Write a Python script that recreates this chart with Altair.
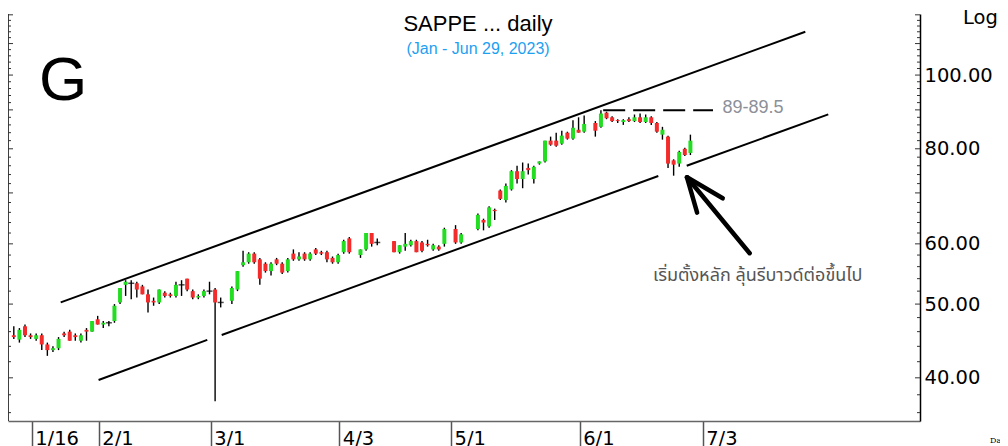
import altair as alt
import pandas as pd
import numpy as np

# ---------------- data ----------------
dates = (
    ["2023-01-%02d" % d for d in [11, 12, 13, 16, 17, 18, 19, 20, 23, 24, 25, 26, 27, 30, 31]]
    + ["2023-02-%02d" % d for d in [1, 2, 3, 6, 7, 8, 9, 10, 13, 14, 15, 16, 17, 20, 21, 22, 23, 24, 27, 28]]
    + ["2023-03-%02d" % d for d in [1, 2, 3, 7, 8, 9, 10, 13, 14, 15, 16, 17, 20, 21, 22, 23, 24, 27, 28, 29, 30, 31]]
    + ["2023-04-%02d" % d for d in [3, 4, 5, 7, 10, 11, 12, 17, 18, 19, 20, 21, 24, 25, 26, 27, 28]]
    + ["2023-05-%02d" % d for d in [2, 3, 8, 9, 10, 11, 12, 15, 16, 17, 18, 19, 22, 23, 24, 25, 26, 29, 30, 31]]
    + ["2023-06-%02d" % d for d in [1, 2, 6, 7, 8, 9, 12, 13, 14, 15, 16, 19, 20, 21, 22, 23, 26, 27, 28, 29]]
)

opens = [
    45.5, 44.9, 46.75, 45.5, 45.0, 45.5, 44.25, 43.5, 43.75, 45.75, 46.0, 45.5, 44.75, 46.25, 46.0,
    47.75, 47.0, 47.25, 47.5, 50.25, 53.0, 53.25, 53.25, 52.75, 51.5, 50.5, 50.25, 51.75, 51.5, 51.25, 53.0, 54.0, 52.0, 51.0, 51.25,
    52.0, 52.25, 50.25, 50.5, 52.25, 56.25, 56.75, 58.25, 57.25, 56.5, 55.25, 57.25, 56.5, 55.25, 58.25, 57.25, 58.25, 57.25, 59.0, 58.5, 58.5, 57.5,
    56.75, 58.5, 61.0, 58.0, 59.0, 62.0, 60.25, 60.5, 58.5, 59.5, 59.75, 60.5, 60.25, 60.0, 59.0, 59.5, 60.0,
    62.75, 60.25, 62.75, 64.5, 63.25, 66.5, 70.5, 68.5, 70.75, 74.75, 73.0, 75.5, 73.0, 76.5, 77.0, 82.0, 82.0, 81.25, 84.0, 82.5,
    84.75, 84.25, 86.5, 85.5, 89.25, 88.0, 87.25, 86.75, 87.5, 87.0, 88.0, 86.75, 88.0, 86.5, 83.5, 83.0, 77.25, 76.5, 80.0, 79.0,
]
highs = [
    46.75, 46.5, 47.0, 45.75, 45.75, 45.75, 44.5, 44.0, 45.25, 46.0, 46.25, 45.75, 45.75, 46.5, 47.5,
    48.25, 47.5, 47.5, 50.0, 52.5, 53.75, 53.75, 53.5, 53.0, 52.25, 51.0, 52.25, 52.0, 51.75, 53.5, 53.75, 54.0, 52.25, 51.5, 52.25,
    53.5, 52.5, 51.0, 52.75, 55.25, 58.75, 58.5, 58.5, 57.5, 56.75, 56.75, 57.5, 56.75, 57.5, 59.0, 58.5, 58.5, 58.5, 59.25, 58.75, 58.75, 57.75,
    58.25, 60.75, 61.25, 59.0, 62.0, 62.0, 61.0, 60.5, 59.75, 62.0, 60.75, 60.75, 60.5, 60.75, 60.0, 59.75, 63.0,
    63.5, 62.0, 65.75, 64.75, 67.25, 66.75, 70.75, 72.0, 75.0, 76.0, 76.75, 76.5, 76.0, 77.0, 82.0, 83.0, 84.0, 84.5, 84.25, 87.25,
    88.0, 88.5, 87.0, 89.9, 89.5, 88.25, 87.5, 87.5, 88.0, 88.75, 89.0, 88.75, 88.25, 86.75, 85.5, 83.25, 77.5, 79.5, 80.25, 83.5,
]
lows = [
    45.0, 44.5, 45.25, 45.0, 44.75, 43.5, 42.75, 43.25, 43.5, 45.25, 44.75, 44.75, 44.5, 44.75, 46.0,
    47.0, 46.5, 46.75, 47.25, 50.0, 51.25, 50.75, 51.0, 51.5, 48.75, 49.75, 50.0, 51.0, 51.0, 51.0, 51.25, 52.0, 50.75, 50.75, 51.0,
    51.5, 37.25, 49.5, 50.0, 52.0, 56.0, 56.5, 56.5, 53.0, 55.0, 54.5, 56.25, 54.75, 55.0, 57.0, 57.0, 57.0, 57.0, 58.0, 58.0, 56.75, 56.5,
    56.5, 58.25, 58.25, 57.5, 58.75, 59.5, 59.75, 58.5, 58.25, 58.75, 59.5, 58.5, 58.5, 59.5, 58.75, 58.75, 59.5,
    60.0, 60.0, 62.5, 62.5, 63.0, 64.5, 68.5, 68.0, 70.5, 72.0, 71.0, 74.0, 72.0, 76.25, 76.75, 80.75, 80.5, 81.0, 82.25, 82.25,
    84.0, 84.0, 83.0, 85.25, 87.5, 86.75, 86.5, 86.0, 86.75, 86.75, 86.5, 86.5, 86.0, 84.0, 82.25, 75.5, 73.75, 75.75, 78.25, 78.5,
]
closes = [
    45.25, 46.25, 45.5, 45.25, 45.5, 44.25, 43.5, 43.75, 45.0, 45.5, 44.75, 45.25, 45.5, 46.0, 47.5,
    47.0, 47.25, 47.25, 49.75, 52.5, 53.5, 53.25, 52.25, 51.5, 50.25, 50.25, 52.25, 51.25, 51.25, 53.0, 53.0, 52.25, 51.0, 51.25, 52.0,
    52.0, 50.25, 50.25, 52.5, 55.25, 56.75, 58.25, 56.75, 54.0, 55.25, 56.5, 56.5, 55.0, 57.25, 57.25, 57.75, 57.25, 58.25, 58.25, 58.25, 57.25, 56.75,
    58.0, 60.5, 58.5, 59.0, 62.0, 60.0, 60.25, 58.5, 59.75, 60.0, 60.5, 58.5, 58.75, 59.75, 59.75, 59.0, 62.75,
    60.25, 61.75, 65.5, 64.0, 67.0, 66.25, 68.75, 71.5, 74.75, 73.0, 74.75, 75.0, 75.75, 77.0, 82.0, 81.0, 80.75, 83.25, 82.5, 85.25,
    84.0, 86.25, 84.5, 89.0, 87.75, 87.0, 87.0, 87.25, 87.0, 88.0, 86.75, 88.0, 86.5, 84.25, 84.75, 76.5, 76.25, 79.25, 78.5, 82.0,
]

# x-axis tick dates and labels
tick_dates = ["2023-01-16", "2023-02-01", "2023-03-01", "2023-04-03", "2023-05-01", "2023-06-01", "2023-07-03"]
tick_labels = ["1/16", "2/1", "3/1", "4/3", "5/1", "6/1", "7/3"]
y_label_values = [40, 50, 60, 80, 100]

# trend channel drawn on the chart (date-index, price)
upper_line_x = [15.19, 148.35]
upper_line_y = [50.26, 114.0]
lower_line_x = [21.96, 41.4, 43.98, 122.06, 127.14, 152.46]
lower_line_y = [39.73, 44.86, 45.54, 73.68, 76.0, 88.78]
lower_line_seg = ["a", "a", "b", "b", "c", "c"]
resist_x = [112.2, 131.84]
resist_y = [89.9, 89.9]
arrow_x = [138.4, 127.19, 129.0, 127.19, 133.58, 127.19]
arrow_y = [58.32, 73.39, 65.94, 73.39, 68.87, 73.39]
arrow_seg = ["s", "s", "h1", "h1", "h2", "h2"]

# ---------------- build ----------------
BASE = "2023-01-02"
df = pd.DataFrame({"date": dates, "open": opens, "high": highs, "low": lows, "close": closes})
df["idx"] = np.busday_count(BASE, np.array(dates, dtype="datetime64[D]")) - 0.2
df["dir"] = np.where(df.close > df.open, "up", np.where(df.close < df.open, "down", "flat"))

tick_idx = [int(v) for v in np.busday_count(BASE, np.array(tick_dates, dtype="datetime64[D]"))]
label_expr = ""
for v, l in zip(tick_idx, tick_labels):
    label_expr += "datum.value == %d ? '%s' : " % (v, l)
label_expr += "''"

W, H = 912, 407
xs = alt.Scale(domain=[5.762, 168.86], nice=False, zero=False, padding=0)
ys = alt.Scale(type="log", domain=[35.10, 120.30], nice=False, zero=False, padding=0)

xaxis = alt.Axis(values=tick_idx, labelExpr=label_expr, labelAlign="left", labelOffset=3,
                 labelBaseline="alphabetic", labelPadding=-2, tickSize=25, tickColor="#555555",
                 tickWidth=1.5, domainColor="#666666", domainWidth=1.5, grid=False, title=None,
                 labelFont="DejaVu Sans", labelFontSize=19.5, labelColor="black",
                 labelFlush=False, labelOverlap=False, labelBound=False)
yaxis = alt.Axis(orient="right", values=y_label_values, format=".2f", labelFont="DejaVu Sans",
                 labelFontSize=19.5, labelColor="black", labelPadding=4, ticks=False,
                 domainColor="black", domainWidth=1.5, grid=False, title=None, labelOverlap=False)


def X(f):
    return alt.X(f, type="quantitative", scale=xs, axis=xaxis)


def Y(f):
    return alt.Y(f, type="quantitative", scale=ys, axis=yaxis)


base = alt.Chart(df)
wicks = base.mark_rule(color="black", strokeWidth=1.4).encode(x=X("idx"), y=Y("low"), y2=alt.Y2("high"))
bodies = base.mark_bar(size=4).encode(
    x=X("idx"), y=Y("open"), y2=alt.Y2("close"),
    color=alt.Color("dir:N", scale=alt.Scale(domain=["up", "down", "flat"],
                                             range=["#22dd22", "#f42b2b", "#000000"]), legend=None))
doji = base.mark_tick(orient="horizontal", thickness=1.5, size=6, color="black").transform_filter(
    "datum.dir == 'flat'").encode(x=X("idx"), y=Y("close"))

lines_df = pd.DataFrame({
    "x": upper_line_x + lower_line_x,
    "y": upper_line_y + lower_line_y,
    "seg": ["u", "u"] + lower_line_seg,
})
channel = alt.Chart(lines_df).mark_line(color="black", strokeWidth=2).encode(
    x=X("x"), y=Y("y"), detail="seg:N")

resist = alt.Chart(pd.DataFrame({"x": resist_x, "y": resist_y})).mark_line(
    color="black", strokeWidth=2, strokeDash=[22, 8]).encode(x=X("x"), y=Y("y"))

arrow = alt.Chart(pd.DataFrame({"x": arrow_x, "y": arrow_y, "seg": arrow_seg})).mark_line(
    color="black", strokeWidth=4.5, strokeCap="round").encode(x=X("x"), y=Y("y"), detail="seg:N")

# frame: left line and inward ticks
frame_left = alt.Chart(pd.DataFrame({"a": [0]})).mark_rule(color="black", strokeWidth=1.5).encode(
    x=alt.value(0), y=alt.value(0), y2=alt.value(H))
tick_vals = list(range(36, 121, 2))
ticks_df = pd.DataFrame({"v": tick_vals, "major": [v % 10 == 0 for v in tick_vals]})
tk = alt.Chart(ticks_df)
lt_minor = tk.mark_rule(color="#333333", strokeWidth=1).transform_filter("!datum.major").encode(
    y=Y("v"), x=alt.value(0), x2=alt.value(3))
lt_major = tk.mark_rule(color="#333333", strokeWidth=1).transform_filter("datum.major").encode(
    y=Y("v"), x=alt.value(0), x2=alt.value(5))
rt_minor = tk.mark_rule(color="#333333", strokeWidth=1).transform_filter("!datum.major").encode(
    y=Y("v"), x=alt.value(W - 3), x2=alt.value(W))
rt_major = tk.mark_rule(color="#333333", strokeWidth=1).transform_filter("datum.major").encode(
    y=Y("v"), x=alt.value(W - 5), x2=alt.value(W))


def label(text, x, y, size, color="black", font="Liberation Sans", align="left", weight="normal"):
    return alt.Chart(pd.DataFrame({"t": [text]})).mark_text(
        font=font, fontSize=size, color=color, align=align, baseline="alphabetic",
        fontWeight=weight).encode(text="t:N", x=alt.value(x), y=alt.value(y))


texts = [
    label("SAPPE ... daily", 470, 17, 22, align="center"),
    label("(Jan - Jun 29, 2023)", 470, 39.5, 16, color="#1e9ff2", align="center"),
    label("G", 31, 86, 62),
    label("Log", 955, 10, 19.5, font="DejaVu Sans"),
    label("89-89.5", 714.5, 99, 18, color="#8c9098"),
    label("เริ่มตั้งหลัก ลุ้นรีบาวด์ต่อขึ้นไป", 645, 267, 18, color="#555555",
          font="Tahoma, 'Noto Sans Thai', 'Noto Sans', sans-serif"),
    label("Da", 982, 429, 8, font="DejaVu Serif"),
]

chart = alt.layer(
    frame_left, lt_minor, lt_major, rt_minor, rt_major,
    channel, resist, arrow, wicks, bodies, doji, *texts
).properties(
    width=W, height=H,
    autosize=alt.AutoSizeParams(type="none"),
    padding={"left": 0, "top": 6, "right": 80, "bottom": 25},
    background="white",
).configure_view(stroke=None)

chart.save("out.html", embed_options={"renderer": "svg", "actions": False})
